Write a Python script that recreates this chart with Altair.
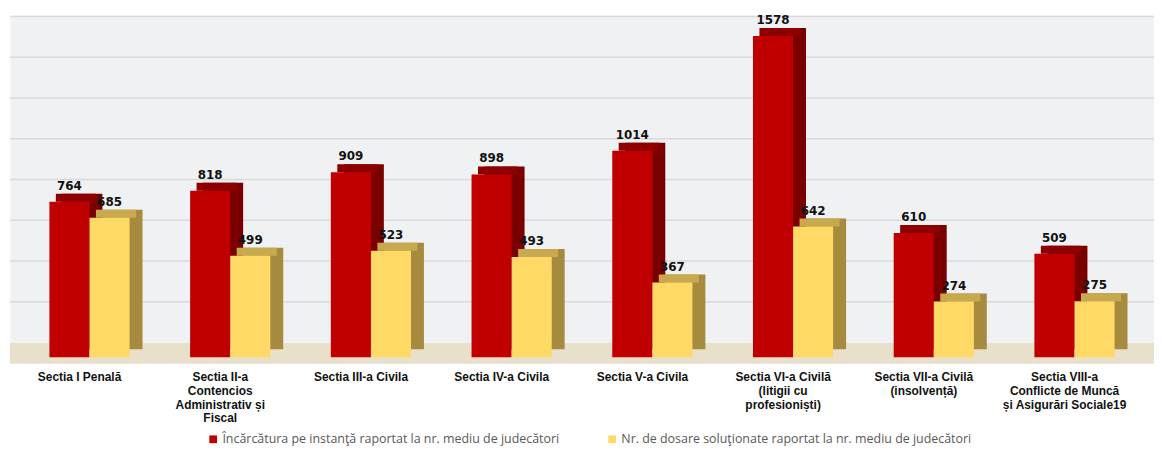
import altair as alt
import pandas as pd

categories = [
    "Sectia I Penală",
    "Sectia II-a|Contencios|Administrativ și|Fiscal",
    "Sectia III-a Civila",
    "Sectia IV-a Civila",
    "Sectia V-a Civila",
    "Sectia VI-a Civilă|(litigii cu|profesioniști)",
    "Sectia VII-a Civilă|(insolvență)",
    "Sectia VIII-a|Conflicte de Muncă|și Asigurări Sociale19",
]
incarcatura = [764, 818, 909, 898, 1014, 1578, 610, 509]
solutionate = [685, 499, 523, 493, 367, 642, 274, 275]
series_names = [
    "Încărcătura pe instanţă raportat la nr. mediu de judecători",
    "Nr. de dosare soluţionate raportat la nr. mediu de judecători",
]
grid_values = [200, 400, 600, 800, 1000, 1200, 1400, 1600]

front_colors = ["#C00000", "#FFD966"]
side_colors = ["#7A0000", "#A68B3F"]
top_colors = ["#8E0000", "#C8A950"]

rows = []
for c, a, b in zip(categories, incarcatura, solutionate):
    rows.append({"cat": c, "series": series_names[0], "s": 0, "value": a})
    rows.append({"cat": c, "series": series_names[1], "s": 1, "value": b})
df = pd.DataFrame(rows)

BAR_W = 40.3
DEPTH_X = 13
DEPTH_Y = 8

yscale = alt.Scale(domain=[0, 1680], nice=False, zero=True)

x_enc = alt.X(
    "cat:N",
    sort=categories,
    scale=alt.Scale(paddingInner=0.43, paddingOuter=0.28),
    axis=alt.Axis(
        title=None,
        labelAngle=0,
        domain=False,
        ticks=False,
        labelPadding=14,
        labelOffset=-10,
        labelExpr="split(datum.label, '|')",
        labelFont="Liberation Sans",
        labelFontWeight="bold",
        labelFontSize=12,
        labelColor="#111111",
        labelLineHeight=14,
        labelLimit=300,
    ),
)
y_enc = alt.Y("value:Q", scale=yscale, axis=None)

grid = alt.Chart(pd.DataFrame({"g": grid_values})).mark_rule(
    color="#D9DADE", strokeWidth=1.5, yOffset=-15
).encode(y=alt.Y("g:Q", scale=yscale, axis=None))

floor = alt.Chart(pd.DataFrame({"z": [0]})).mark_rule(
    color="#E9E0CB", strokeWidth=21, yOffset=-4
).encode(y=alt.Y("z:Q", scale=yscale, axis=None))

side_layers = []
top_layers = []
front_layers = []
label_layers = []
for i in range(2):
    shift = (i - 0.5) * BAR_W
    sub = alt.Chart(df).transform_filter(f"datum.s == {i}")
    side_layers.append(
        sub.mark_bar(
            width=BAR_W,
            xOffset=shift + DEPTH_X,
            yOffset=-DEPTH_Y,
            y2Offset=-DEPTH_Y,
            color=side_colors[i],
        ).encode(x=x_enc, y=y_enc, y2=alt.datum(0))
    )
    top_layers.append(
        sub.mark_bar(
            width=BAR_W,
            xOffset=shift + DEPTH_X / 2,
            yOffset=-DEPTH_Y,
            y2Offset=0,
            color=top_colors[i],
        ).encode(x=x_enc, y=y_enc, y2=alt.Y2("value:Q"))
    )
    front_layers.append(
        sub.mark_bar(width=BAR_W, xOffset=shift).encode(
            x=x_enc,
            y=y_enc,
            color=alt.Color(
                "series:N",
                sort=series_names,
                scale=alt.Scale(domain=series_names, range=front_colors),
                legend=alt.Legend(
                    title=None,
                    orient="none",
                    legendX=198,
                    legendY=420,
                    direction="horizontal",
                    symbolType="square",
                    symbolSize=60,
                    symbolStrokeWidth=0,
                    labelFont="Open Sans",
                    labelFontSize=12.5,
                    labelColor="#595959",
                    labelLimit=600,
                    labelOffset=3,
                    columnPadding=46,
                    padding=0,
                ),
            ),
        )
    )
    label_layers.append(
        sub.mark_text(
            dx=shift,
            dy=-9,
            baseline="bottom",
            font="DejaVu Sans",
            fontWeight="bold",
            fontSize=12,
            color="#111111",
        ).encode(x=x_enc, y=y_enc, text="value:Q")
    )

chart = (
    alt.layer(grid, floor, *side_layers, *top_layers, *front_layers, *label_layers)
    .properties(
        width=1150,
        height=344,
        autosize=alt.AutoSizeParams(type="none"),
        padding={"left": 2, "top": 6, "right": 0, "bottom": 89},
    )
    .configure_view(fill="#F0F1F3", stroke="transparent")
)

chart.save("out.html", embed_options={"renderer": "svg", "actions": False})
